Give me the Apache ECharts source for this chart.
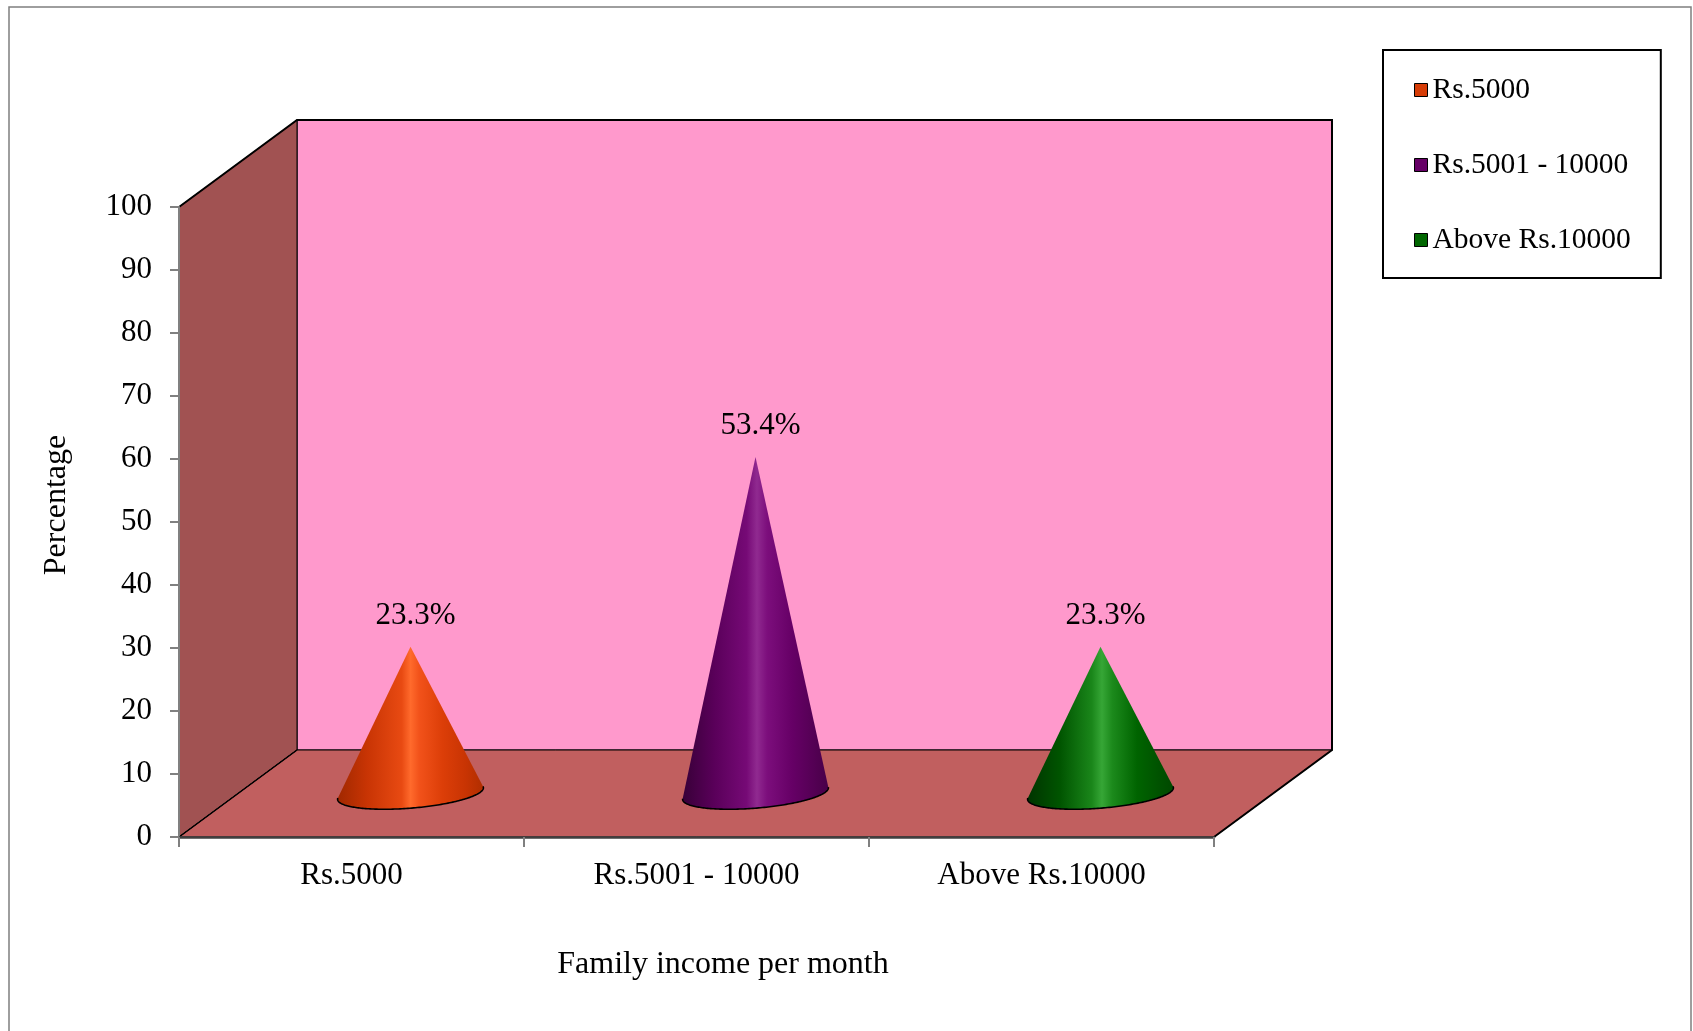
<!DOCTYPE html>
<html>
<head>
<meta charset="utf-8">
<script src="https://cdn.jsdelivr.net/npm/echarts@6/dist/echarts.min.js"></script>
<style>
html, body { margin: 0; padding: 0; background: #fff; }
#chart { width: 1693px; height: 1031px; }
</style>
</head>
<body>
<div id="chart"></div>
<script>
// Family income per month, share of respondents (%)
const categories = ['Rs.5000', 'Rs.5001 - 10000', 'Above Rs.10000'];
const percentages = [23.3, 53.4, 23.3];
const yMin = 0;
const yMax = 100;
const yStep = 10;
const xTitle = 'Family income per month';
const yTitle = 'Percentage';

const FONT = '"Liberation Serif", "Times New Roman", serif';
// screen offset from the front plane to the back wall
const DEPTH = [118, -87];

const legendColors = ['#d63c06', '#660066', '#006600'];
const coneShades = [
  [['#a02800', 0], ['#c83404', 0.2], ['#e84a12', 0.44], ['#ff6a2c', 0.5], ['#f2521a', 0.56], ['#dc3e08', 0.72], ['#c83403', 0.88], ['#b02e00', 1]],
  [['#380038', 0], ['#5a005a', 0.22], ['#760a76', 0.44], ['#902a90', 0.51], ['#7c0e7c', 0.58], ['#660066', 0.75], ['#540054', 0.9], ['#480048', 1]],
  [['#003400', 0], ['#005400', 0.22], ['#1a861a', 0.44], ['#36a636', 0.51], ['#1c8a1c', 0.58], ['#006400', 0.75], ['#005200', 0.9], ['#004800', 1]]
];

function convexHull(points) {
  const P = points.slice().sort((p, q) => p[0] - q[0] || p[1] - q[1]);
  const cross = (o, a, b) => (a[0] - o[0]) * (b[1] - o[1]) - (a[1] - o[1]) * (b[0] - o[0]);
  const lower = [];
  for (const p of P) {
    while (lower.length >= 2 && cross(lower[lower.length - 2], lower[lower.length - 1], p) <= 0) lower.pop();
    lower.push(p);
  }
  const upper = [];
  for (let i = P.length - 1; i >= 0; i--) {
    const p = P[i];
    while (upper.length >= 2 && cross(upper[upper.length - 2], upper[upper.length - 1], p) <= 0) upper.pop();
    upper.push(p);
  }
  upper.pop();
  lower.pop();
  return lower.concat(upper);
}

// back wall, side wall and floor of the 3-D box
function renderWalls(params) {
  const cs = params.coordSys;
  const L = cs.x, R = cs.x + cs.width, T = cs.y, B = cs.y + cs.height;
  const dx = DEPTH[0], dy = DEPTH[1];
  return {
    type: 'group',
    children: [
      { type: 'polygon', shape: { points: [[L + dx, T + dy], [R + dx, T + dy], [R + dx, B + dy], [L + dx, B + dy]] },
        style: { fill: '#ff99cc', stroke: '#000', lineWidth: 1.2 } },
      { type: 'polygon', shape: { points: [[L, B], [L, T], [L + dx, T + dy], [L + dx, B + dy]] },
        style: { fill: '#a15252', stroke: '#000', lineWidth: 1 } },
      { type: 'polygon', shape: { points: [[L, B], [L + dx, B + dy], [R + dx, B + dy], [R, B]] },
        style: { fill: '#c15f5f', stroke: '#000', lineWidth: 1 } },
      { type: 'polyline', shape: { points: [[L, T], [L + dx, T + dy], [R + dx, T + dy], [R + dx, B + dy], [R, B]] },
        style: { fill: null, stroke: '#000', lineWidth: 2 } },
      { type: 'line', shape: { x1: L, y1: B, x2: L + dx, y2: B + dy },
        style: { stroke: '#000', lineWidth: 1.5 } }
    ]
  };
}

// one shaded cone standing halfway into the depth, with its value label
function renderCone(params, api) {
  const cat = api.value(0);
  const val = api.value(1);
  const base = api.coord([cat, 0]);
  const top = api.coord([cat, val]);
  const hx = DEPTH[0] / 2, hy = DEPTH[1] / 2;
  const cx = base[0] + hx, cy = base[1] + hy;
  const apex = [top[0] + hx, top[1] + hy];
  const band = api.size([1, 0])[0];
  const a = band * 0.212, b = a * 0.2, th = -0.082;
  const ct = Math.cos(th), st = Math.sin(th);
  const ring = [];
  for (let i = 0; i < 240; i++) {
    const t = i / 240 * Math.PI * 2;
    const ex = a * Math.cos(t), ey = b * Math.sin(t);
    ring.push([cx + ex * ct - ey * st, cy + ex * st + ey * ct]);
  }
  const hull = convexHull(ring.concat([apex]));
  const k = hull.indexOf(apex);
  const arc = hull.slice(k + 1).concat(hull.slice(0, k));
  const stops = coneShades[params.seriesIndex - 1].map(s => ({ offset: s[1], color: s[0] }));
  return {
    type: 'group',
    children: [
      { type: 'polygon', shape: { points: hull },
        style: { fill: new echarts.graphic.LinearGradient(0, 0, 1, 0, stops) } },
      { type: 'polyline', shape: { points: arc },
        style: { fill: null, stroke: '#000', lineWidth: 1.6 } },
      { type: 'text', x: apex[0] + 5, y: apex[1] - 31,
        style: { text: val.toFixed(1) + '%', fill: '#000', font: '31px ' + FONT, align: 'center', verticalAlign: 'middle' } }
    ]
  };
}

const chart = echarts.init(document.getElementById('chart'), null, { renderer: 'canvas' });

const series = [{
  type: 'custom',
  name: 'box',
  silent: true,
  z: 1,
  clip: false,
  renderItem: renderWalls,
  data: [[0, 0]]
}];
categories.forEach((name, i) => {
  series.push({
    type: 'custom',
    name: name,
    z: 3,
    clip: false,
    itemStyle: { color: legendColors[i] },
    renderItem: renderCone,
    data: [[i, percentages[i]]]
  });
});

chart.setOption({
  animation: false,
  backgroundColor: '#fff',
  grid: { left: 179, top: 207, width: 1035, height: 630, containLabel: false },
  legend: {
    data: categories,
    orient: 'vertical',
    left: 1383,
    top: 50,
    padding: [25, 30, 23, 31],
    itemGap: 45,
    itemWidth: 13,
    itemHeight: 13,
    icon: 'rect',
    borderColor: '#000',
    borderWidth: 2,
    itemStyle: { borderColor: '#000', borderWidth: 1 },
    textStyle: { fontSize: 29.5, fontFamily: FONT, color: '#000' },
    selectedMode: false
  },
  xAxis: {
    type: 'category',
    data: categories,
    boundaryGap: true,
    z: 5,
    axisLine: { show: true, lineStyle: { color: '#404040', width: 2.5 } },
    axisTick: { show: true, length: 10, lineStyle: { color: '#808080', width: 2 } },
    axisLabel: { fontSize: 31, fontFamily: FONT, color: '#000', margin: 23 },
    splitLine: { show: false }
  },
  yAxis: {
    type: 'value',
    min: yMin,
    max: yMax,
    interval: yStep,
    z: 5,
    axisLine: { show: true, lineStyle: { color: '#808080', width: 2 } },
    axisTick: { show: true, length: 9, lineStyle: { color: '#808080', width: 2 } },
    axisLabel: { fontSize: 31, fontFamily: FONT, color: '#000', margin: 27 },
    splitLine: { show: false }
  },
  graphic: [
    { type: 'rect', silent: true, z: -10, shape: { x: 9, y: 7, width: 1682, height: 1060 },
      style: { fill: null, stroke: '#7f7f7f', lineWidth: 1.5 } },
    { type: 'text', silent: true, x: 723, y: 965,
      style: { text: xTitle, fill: '#000', font: '32px ' + FONT, align: 'center', verticalAlign: 'middle' } },
    { type: 'text', silent: true, x: 57, y: 505, rotation: Math.PI / 2,
      style: { text: yTitle, fill: '#000', font: '32px ' + FONT, align: 'center', verticalAlign: 'middle' } }
  ],
  series: series
});
</script>
</body>
</html>
